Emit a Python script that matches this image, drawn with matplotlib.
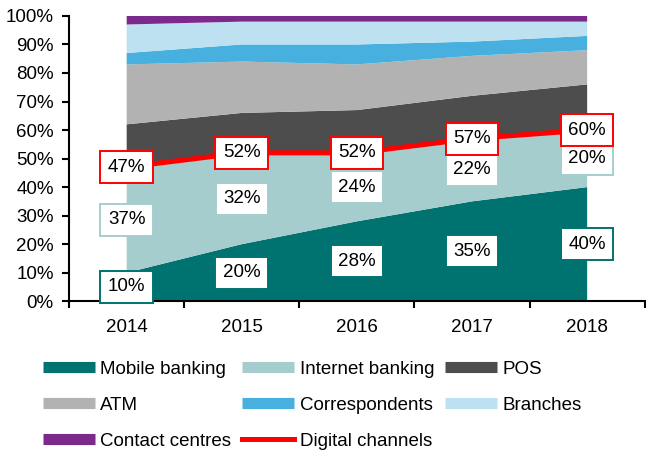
import numpy as np
import matplotlib
matplotlib.use('Agg')
from matplotlib import pyplot as plt
from matplotlib.lines import Line2D

plt.rcParams['font.family'] = ['Liberation Sans', 'DejaVu Sans']
plt.rcParams['font.size'] = 13.5

# data (share of transactions, %)
years = ['2014', '2015', '2016', '2017', '2018']
mobile = [10, 20, 28, 35, 40]
internet = [37, 32, 24, 22, 20]
pos = [15, 14, 15, 15, 16]
atm = [21, 18, 16, 14, 12]
correspondents = [4, 6, 7, 5, 5]
branches = [10, 8, 8, 7, 5]
contact = [3, 2, 2, 2, 2]
digital = [47, 52, 52, 57, 60]

names = ['Mobile banking', 'Internet banking', 'POS', 'ATM',
         'Correspondents', 'Branches', 'Contact centres']
colors = ['#007370', '#A6CDCD', '#4D4D4D', '#B2B2B2',
          '#48B0DE', '#BEE1F2', '#7B2A8B']
red = '#FF0000'

x = np.arange(len(years))

fig = plt.figure(figsize=(6.46, 4.55), dpi=100)
ax = fig.add_axes([0.107, 0.338, 0.891, 0.627])

ax.stackplot(x, mobile, internet, pos, atm, correspondents, branches, contact,
             colors=colors, linewidth=0)
ax.plot(x, digital, color=red, lw=3.6, solid_capstyle='butt', zorder=3)

# data labels
def box(xi, yi, txt, ec):
    ax.text(xi, yi, txt, ha='center', va='center', fontsize=13.5, zorder=5,
            bbox=dict(boxstyle='square,pad=0.4', fc='white', ec=ec, lw=1.4))

for i in x:
    box(i, mobile[i] / 2, f'{mobile[i]}%', colors[0])
    box(i, mobile[i] + internet[i] / 2, f'{internet[i]}%', colors[1])
    box(i, digital[i], f'{digital[i]}%', red)

ax.set_xlim(-0.5, 4.5)
ax.set_ylim(0, 100)
ax.set_yticks(np.arange(0, 101, 10))
ax.set_yticklabels([f'{v}%' for v in range(0, 101, 10)])
ax.set_xticks(np.arange(-0.5, 5, 1))
ax.set_xticklabels([])
ax.set_xticks(x, minor=True)
ax.set_xticklabels(years, minor=True)
ax.tick_params(axis='x', which='major', length=5, width=1.5, direction='out')
ax.tick_params(axis='x', which='minor', length=0, pad=13)
ax.tick_params(axis='y', length=5, width=1.5, direction='out', pad=6)
for s in ['top', 'right']:
    ax.spines[s].set_visible(False)
for s in ['left', 'bottom']:
    ax.spines[s].set_linewidth(1.5)

# legend, row-wise order like the original
h = [Line2D([], [], color=c, lw=8, solid_capstyle='butt') for c in colors]
h.append(Line2D([], [], color=red, lw=3.6))
labels = names + ['Digital channels']
order = [0, 3, 6, 1, 4, 7, 2, 5]
fig.legend([h[i] for i in order], [labels[i] for i in order],
           loc='upper left', bbox_to_anchor=(0.052, 0.228), ncol=3,
           frameon=False, borderpad=0, handlelength=2.75, handletextpad=0.3,
           columnspacing=0.6, labelspacing=1.0, fontsize=13.5)

fig.savefig('out.png', dpi=100)
